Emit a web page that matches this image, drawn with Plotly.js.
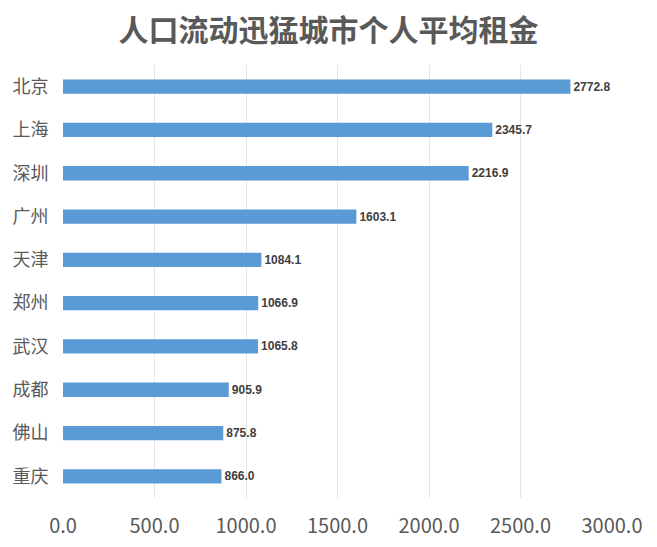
<!DOCTYPE html>
<html>
<head>
<meta charset="utf-8">
<script src="https://cdn.plot.ly/plotly-3.0.1.min.js"></script>
<style>html,body{margin:0;padding:0;background:#fff;}#chart{width:657px;height:547px;}</style>
</head>
<body>
<div id="chart"></div>
<script>
const cities = ["北京","上海","深圳","广州","天津","郑州","武汉","成都","佛山","重庆"];
const rents = [2772.8, 2345.7, 2216.9, 1603.1, 1084.1, 1066.9, 1065.8, 905.9, 875.8, 866.0];
const xTicks = [0, 500, 1000, 1500, 2000, 2500, 3000];

const trace = {
  type: "bar",
  orientation: "h",
  y: cities,
  x: rents,
  marker: {color: "#5B9BD5"},
  text: rents.map(v => v.toFixed(1)),
  textposition: "outside",
  cliponaxis: false,
  textfont: {family: "Liberation Sans, Noto Sans CJK SC, sans-serif", size: 12, color: "#404040", weight: "bold"},
  hoverinfo: "none"
};

const layout = {
  width: 657, height: 547,
  margin: {l: 63, r: 45, t: 65, b: 49},
  paper_bgcolor: "#ffffff",
  plot_bgcolor: "#ffffff",
  showlegend: false,
  bargap: 0.67,
  font: {family: "Noto Sans CJK SC, sans-serif", color: "#595959"},
  title: {
    text: "<b>人口流动迅猛城市个人平均租金</b>",
    x: 0.5, xanchor: "center",
    y: 0.945, yanchor: "middle",
    font: {family: "Noto Sans CJK SC, sans-serif", size: 30, color: "#595959"}
  },
  xaxis: {
    range: [0, 3000],
    tickvals: xTicks,
    ticktext: xTicks.map(v => v.toFixed(1)),
    showgrid: true,
    gridcolor: "#E6E6E6",
    gridwidth: 1,
    zeroline: false,
    showline: false,
    ticks: "outside",
    ticklen: 10,
    tickcolor: "rgba(0,0,0,0)",
    tickfont: {family: "Liberation Sans Narrow, Noto Sans CJK SC, sans-serif", size: 20, color: "#595959"},
    fixedrange: true
  },
  yaxis: {
    autorange: "reversed",
    showgrid: false,
    zeroline: false,
    showline: false,
    ticks: "outside",
    ticklen: 10,
    tickcolor: "rgba(0,0,0,0)",
    tickfont: {family: "Noto Sans CJK SC, sans-serif", size: 18, color: "#595959"},
    fixedrange: true
  }
};

Plotly.newPlot("chart", [trace], layout, {displayModeBar: false, staticPlot: true});
</script>
</body>
</html>
